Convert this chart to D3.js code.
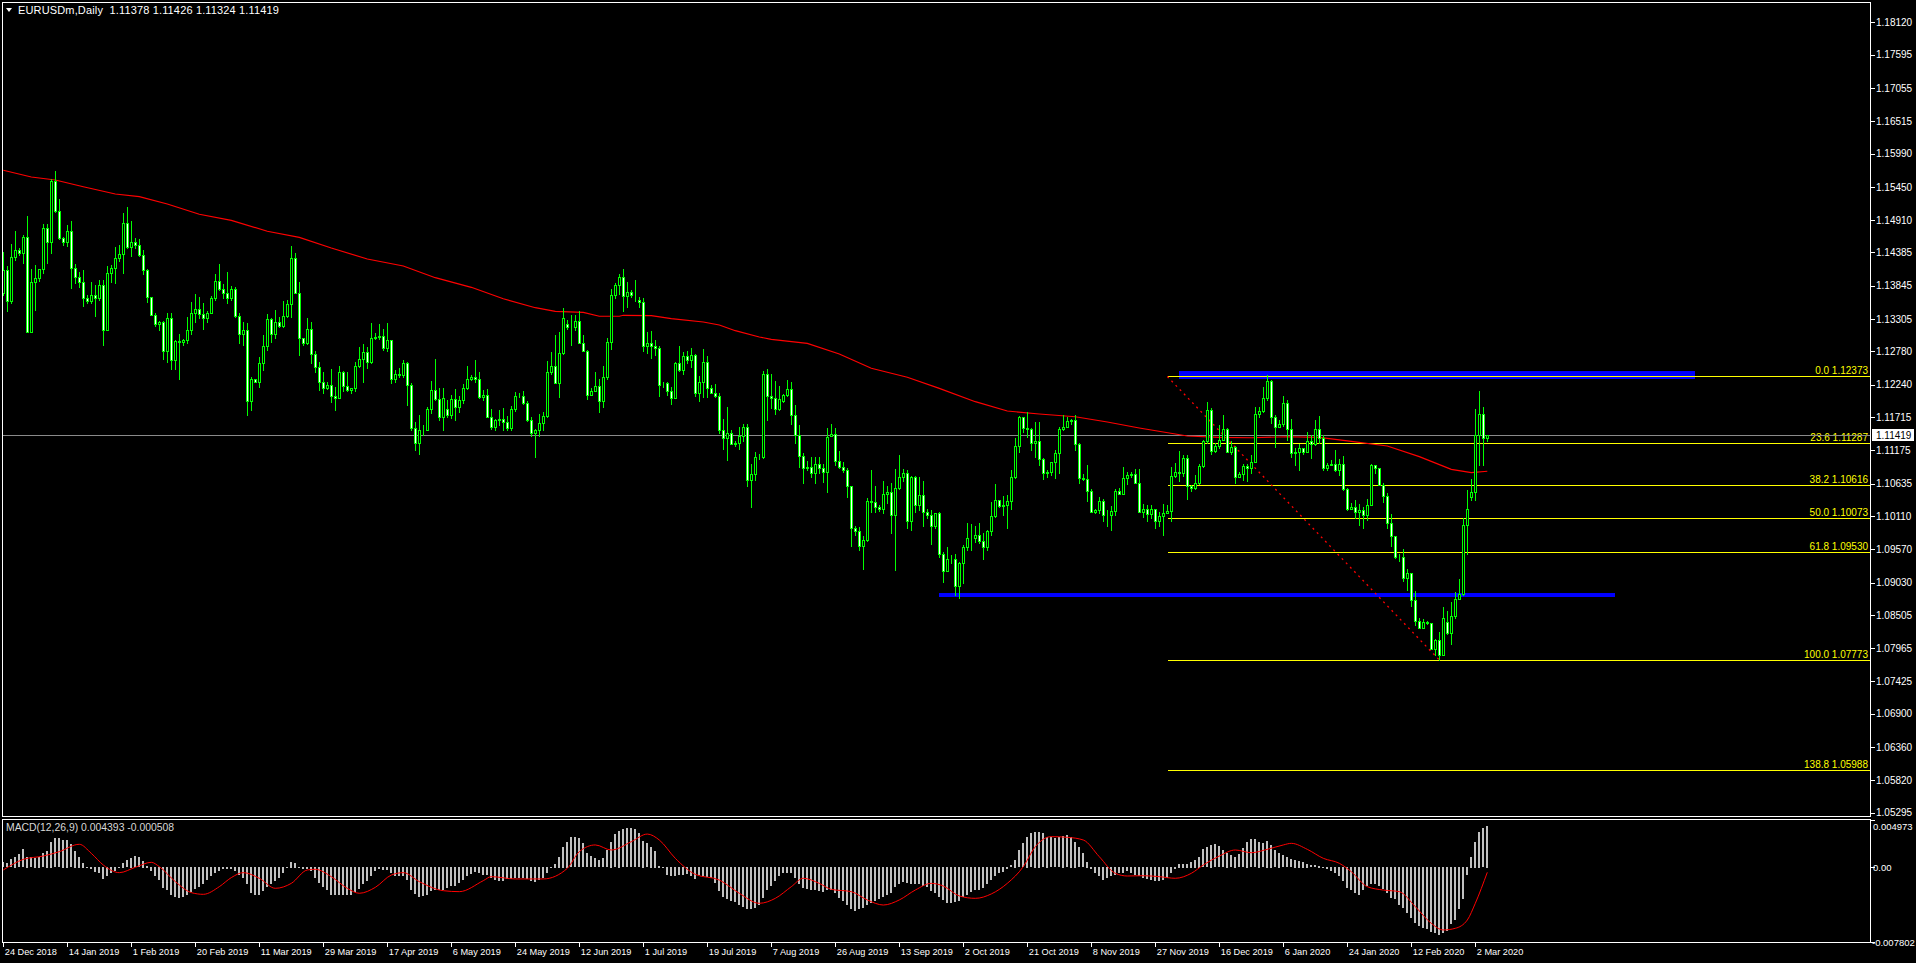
<!DOCTYPE html>
<html><head><meta charset="utf-8">
<script src="https://cdn.jsdelivr.net/npm/d3@7"></script>
<style>html,body{margin:0;padding:0;background:#000;overflow:hidden}</style>
</head><body><svg id="c" width="1916" height="963"></svg>
<script>
// ---------------- DATA ----------------
const symbolTitle = "EURUSDm,Daily";
const lastOHLC = [1.11378, 1.11426, 1.11324, 1.11419];
const open = [
1.1372,1.1410,1.1360,1.1431,1.1443,1.1438,1.1463,1.1310,1.1390,1.1397,
1.1411,1.1479,1.1455,1.1555,1.1506,1.1462,1.1455,1.1473,1.1414,1.1398,
1.1391,1.1364,1.1359,1.1370,1.1364,1.1386,1.1312,1.1406,1.1413,1.1430,
1.1436,1.1486,1.1448,1.1455,1.1451,1.1435,1.1410,1.1366,1.1337,1.1322,
1.1325,1.1278,1.1333,1.1264,1.1295,1.1293,1.1296,1.1312,1.1340,1.1346,
1.1339,1.1333,1.1341,1.1364,1.1393,1.1379,1.1372,1.1364,1.1380,1.1336,
1.1306,1.1312,1.1198,1.1233,1.1229,1.1259,1.1286,1.1330,1.1306,1.1325,
1.1319,1.1336,1.1355,1.1429,1.1373,1.1299,1.1292,1.1315,1.1273,1.1252,
1.1229,1.1218,1.1224,1.1205,1.1203,1.1244,1.1222,1.1215,1.1219,1.1255,
1.1266,1.1277,1.1260,1.1299,1.1302,1.1303,1.1284,1.1297,1.1234,1.1242,
1.1240,1.1259,1.1223,1.1153,1.1130,1.1150,1.1150,1.1184,1.1215,1.1201,
1.1172,1.1184,1.1174,1.1200,1.1188,1.1199,1.1218,1.1234,1.1237,1.1233,
1.1204,1.1207,1.1172,1.1156,1.1166,1.1168,1.1164,1.1154,1.1184,1.1205,
1.1206,1.1194,1.1167,1.1145,1.1150,1.1162,1.1173,1.1245,1.1254,1.1227,
1.1275,1.1322,1.1318,1.1317,1.1328,1.1292,1.1279,1.1208,1.1214,1.1222,
1.1198,1.1236,1.1294,1.1369,1.1385,1.1399,1.1368,1.1374,1.1370,1.1362,
1.1358,1.1286,1.1291,1.1287,1.1284,1.1226,1.1226,1.1214,1.1203,1.1259,
1.1248,1.1271,1.1264,1.1272,1.1211,1.1228,1.1260,1.1219,1.1211,1.1205,
1.1150,1.1138,1.1145,1.1128,1.1130,1.1141,1.1156,1.1070,1.1079,1.1106,
1.1107,1.1242,1.1205,1.1203,1.1185,1.1197,1.1207,1.1217,1.1175,1.1142,
1.1109,1.1089,1.1091,1.1081,1.1096,1.1089,1.1083,1.1141,1.1144,1.1100,
1.1090,1.1085,1.1059,1.0991,1.0987,1.0963,1.0972,1.1036,1.1033,1.1026,
1.1022,1.1046,1.1050,1.1013,1.1056,1.1074,1.1080,1.1002,1.1075,1.1028,
1.1045,1.1018,1.1013,1.0994,1.1015,1.0949,1.0921,1.0941,1.0941,1.0898,
1.0934,1.0961,1.0976,1.0976,1.0980,1.0971,1.0960,1.0986,1.1011,1.1037,
1.1027,1.1028,1.1035,1.1074,1.1125,1.1171,1.1154,1.1152,1.1129,1.1133,
1.1103,1.1080,1.1083,1.1098,1.1113,1.1152,1.1156,1.1165,1.1166,1.1128,
1.1073,1.1071,1.1052,1.1018,1.1021,1.1036,1.1012,1.1013,1.1019,1.1052,
1.1046,1.1072,1.1078,1.1079,1.1065,1.1018,1.1022,1.1014,1.1022,1.1003,
1.1011,1.1015,1.1019,1.1076,1.1082,1.1080,1.1105,1.1059,1.1056,1.1064,
1.1092,1.1133,1.1183,1.1117,1.1125,1.1135,1.1152,1.1115,1.1123,1.1075,
1.1079,1.1092,1.1088,1.1099,1.1176,1.1181,1.1202,1.1230,1.1171,1.1156,
1.1160,1.1195,1.1152,1.1113,1.1114,1.1121,1.1115,1.1133,1.1127,1.1152,
1.1138,1.1089,1.1094,1.1096,1.1085,1.1095,1.1054,1.1022,1.1026,1.1018,
1.1021,1.1013,1.1029,1.1094,1.1089,1.1062,1.1044,1.0999,1.0979,1.0944,
1.0945,1.0910,1.0918,1.0874,1.0841,1.0830,1.0839,1.0838,1.0795,1.0810,
1.0786,1.0839,1.0821,1.0849,1.0877,1.0885,1.0996,1.1041,1.1050,1.1143,
1.1176,1.11378];
const high = [
1.1440,1.1416,1.1453,1.1473,1.1445,1.1467,1.1497,1.1412,1.1419,1.1411,
1.1485,1.1485,1.1557,1.1571,1.1525,1.1464,1.1483,1.1490,1.1420,1.1407,
1.1410,1.1370,1.1390,1.1385,1.1394,1.1394,1.1417,1.1418,1.1448,1.1450,
1.1502,1.1513,1.1489,1.1462,1.1460,1.1443,1.1412,1.1367,1.1341,1.1327,
1.1327,1.1340,1.1341,1.1297,1.1306,1.1298,1.1334,1.1358,1.1371,1.1366,
1.1357,1.1343,1.1368,1.1404,1.1420,1.1387,1.1407,1.1384,1.1382,1.1341,
1.1326,1.1324,1.1237,1.1234,1.1269,1.1305,1.1339,1.1332,1.1345,1.1334,
1.1360,1.1361,1.1449,1.1437,1.1391,1.1299,1.1332,1.1325,1.1278,1.1261,
1.1244,1.1228,1.1249,1.1221,1.1254,1.1247,1.1245,1.1219,1.1261,1.1285,
1.1290,1.1285,1.1324,1.1308,1.1322,1.1314,1.1324,1.1297,1.1248,1.1251,
1.1264,1.1260,1.1226,1.1163,1.1175,1.1158,1.1188,1.1230,1.1266,1.1219,
1.1218,1.1199,1.1207,1.1217,1.1206,1.1225,1.1254,1.1240,1.1264,1.1244,
1.1215,1.1217,1.1184,1.1169,1.1183,1.1186,1.1173,1.1189,1.1212,1.1211,
1.1214,1.1198,1.1172,1.1152,1.1176,1.1179,1.1262,1.1277,1.1305,1.1310,
1.1348,1.1329,1.1337,1.1337,1.1343,1.1305,1.1280,1.1218,1.1245,1.1234,
1.1254,1.1299,1.1379,1.1389,1.1404,1.1411,1.1390,1.1378,1.1394,1.1367,
1.1364,1.1310,1.1311,1.1297,1.1287,1.1229,1.1229,1.1221,1.1261,1.1287,
1.1277,1.1278,1.1284,1.1274,1.1238,1.1282,1.1270,1.1224,1.1225,1.1210,
1.1168,1.1188,1.1150,1.1132,1.1156,1.1161,1.1161,1.1096,1.1115,1.1112,
1.1247,1.1250,1.1241,1.1230,1.1222,1.1209,1.1232,1.1229,1.1191,1.1159,
1.1113,1.1100,1.1107,1.1106,1.1106,1.1096,1.1153,1.1161,1.1154,1.1116,
1.1099,1.1088,1.1060,1.0995,1.0993,1.0979,1.1040,1.1085,1.1059,1.1028,
1.1068,1.1060,1.1064,1.1087,1.1110,1.1087,1.1086,1.1076,1.1076,1.1075,
1.1068,1.1022,1.1021,1.1016,1.1018,1.0953,1.0960,1.0948,1.0949,1.0937,
1.0964,1.0999,1.0998,1.0994,1.0999,1.0983,1.0989,1.1034,1.1063,1.1037,
1.1043,1.1045,1.1086,1.1137,1.1173,1.1171,1.1179,1.1153,1.1164,1.1163,
1.1105,1.1085,1.1099,1.1118,1.1156,1.1175,1.1171,1.1168,1.1175,1.1129,
1.1079,1.1093,1.1054,1.1023,1.1042,1.1038,1.1021,1.1027,1.1054,1.1056,
1.1091,1.1083,1.1082,1.1087,1.1087,1.1031,1.1029,1.1029,1.1022,1.1017,
1.1030,1.1028,1.1090,1.1097,1.1116,1.1110,1.1110,1.1061,1.1077,1.1096,
1.1135,1.1196,1.1186,1.1129,1.1159,1.1175,1.1153,1.1132,1.1125,1.1082,
1.1095,1.1095,1.1110,1.1188,1.1187,1.1220,1.1240,1.1232,1.1175,1.1166,
1.1206,1.1199,1.1168,1.1121,1.1127,1.1122,1.1147,1.1143,1.1166,1.1173,
1.1142,1.1097,1.1102,1.1118,1.1103,1.1108,1.1057,1.1032,1.1037,1.1030,
1.1026,1.1039,1.1095,1.1094,1.1089,1.1065,1.1048,1.1014,1.0979,1.0950,
1.0958,1.0925,1.0919,1.0889,1.0845,1.0844,1.0841,1.0838,1.0811,1.0822,
1.0864,1.0856,1.0872,1.0888,1.0909,1.1007,1.1053,1.1071,1.1185,1.1214,
1.1188,1.11426];
const low = [
1.1370,1.1343,1.1357,1.1426,1.1434,1.1421,1.1310,1.1310,1.1345,1.1393,
1.1405,1.1422,1.1438,1.1505,1.1460,1.1451,1.1449,1.1381,1.1389,1.1383,
1.1351,1.1357,1.1356,1.1336,1.1361,1.1288,1.1312,1.1390,1.1389,1.1424,
1.1406,1.1445,1.1433,1.1445,1.1433,1.1404,1.1358,1.1337,1.1320,1.1313,
1.1265,1.1260,1.1250,1.1249,1.1233,1.1288,1.1292,1.1307,1.1325,1.1332,
1.1315,1.1326,1.1340,1.1361,1.1378,1.1364,1.1357,1.1362,1.1334,1.1291,
1.1288,1.1175,1.1183,1.1228,1.1221,1.1248,1.1280,1.1294,1.1299,1.1318,
1.1318,1.1334,1.1334,1.1372,1.1272,1.1288,1.1290,1.1259,1.1244,1.1215,
1.1211,1.1217,1.1196,1.1183,1.1202,1.1214,1.1213,1.1211,1.1214,1.1253,
1.1229,1.1251,1.1259,1.1298,1.1298,1.1280,1.1278,1.1226,1.1229,1.1237,
1.1237,1.1191,1.1151,1.1118,1.1111,1.1143,1.1150,1.1178,1.1199,1.1167,
1.1151,1.1172,1.1170,1.1167,1.1180,1.1195,1.1217,1.1232,1.1229,1.1202,
1.1199,1.1171,1.1152,1.1150,1.1159,1.1150,1.1150,1.1150,1.1182,1.1204,
1.1193,1.1165,1.1140,1.1107,1.1140,1.1151,1.1172,1.1242,1.1226,1.1204,
1.1274,1.1314,1.1288,1.1313,1.1291,1.1278,1.1201,1.1207,1.1213,1.1180,
1.1188,1.1233,1.1282,1.1365,1.1371,1.1344,1.1350,1.1367,1.1359,1.1350,
1.1279,1.1275,1.1268,1.1272,1.1206,1.1220,1.1207,1.1193,1.1202,1.1247,
1.1242,1.1259,1.1253,1.1205,1.1198,1.1204,1.1204,1.1210,1.1204,1.1145,
1.1120,1.1101,1.1127,1.1124,1.1120,1.1132,1.1059,1.1026,1.1069,1.1103,
1.1105,1.1167,1.1186,1.1176,1.1183,1.1196,1.1205,1.1160,1.1129,1.1091,
1.1065,1.1086,1.1074,1.1065,1.1080,1.1066,1.1050,1.1140,1.1094,1.1088,
1.1083,1.1041,1.0963,1.0980,1.0956,1.0925,1.0970,1.1017,1.1018,1.1019,
1.1015,1.1032,1.0983,1.0924,1.1055,1.1067,1.0991,1.0988,1.1018,1.1021,
1.0995,1.1008,1.0966,1.0991,1.0945,1.0904,1.0921,1.0935,1.0883,1.0878,
1.0902,1.0956,1.0956,1.0969,1.0967,1.0941,1.0955,1.0980,1.1009,1.1025,
1.1013,1.0991,1.1023,1.1072,1.1114,1.1148,1.1139,1.1118,1.1106,1.1094,
1.1071,1.1075,1.1077,1.1072,1.1080,1.1151,1.1155,1.1161,1.1118,1.1064,
1.1069,1.1036,1.1017,1.1016,1.1015,1.1002,1.0994,1.0988,1.1013,1.1046,
1.1046,1.1063,1.1074,1.1064,1.1018,1.1010,1.1003,1.1007,1.0991,1.0994,
1.0980,1.1015,1.1002,1.1074,1.1067,1.1076,1.1039,1.1052,1.1055,1.1063,
1.1090,1.1130,1.1112,1.1114,1.1121,1.1134,1.1114,1.1112,1.1065,1.1075,
1.1069,1.1068,1.1081,1.1098,1.1172,1.1179,1.1199,1.1162,1.1123,1.1156,
1.1157,1.1134,1.1107,1.1093,1.1085,1.1112,1.1114,1.1105,1.1126,1.1129,
1.1086,1.1086,1.1094,1.1084,1.1077,1.1053,1.1021,1.1022,1.1007,1.0996,
1.0992,1.1004,1.1028,1.1080,1.1061,1.1033,1.0992,1.0963,1.0942,1.0938,
1.0906,1.0891,1.0865,1.0834,1.0829,1.0829,1.0836,1.0795,1.0785,1.0777,
1.0785,1.0819,1.0804,1.0845,1.0876,1.0883,1.0950,1.1037,1.1037,1.1094,
1.1094,1.11324];
const close = [
1.1410,1.1360,1.1431,1.1443,1.1438,1.1463,1.1310,1.1390,1.1397,1.1411,
1.1479,1.1455,1.1555,1.1506,1.1462,1.1455,1.1473,1.1414,1.1398,1.1391,
1.1364,1.1359,1.1370,1.1364,1.1386,1.1312,1.1406,1.1413,1.1430,1.1436,
1.1486,1.1448,1.1455,1.1451,1.1435,1.1410,1.1366,1.1337,1.1322,1.1325,
1.1278,1.1333,1.1264,1.1295,1.1293,1.1296,1.1312,1.1340,1.1346,1.1339,
1.1333,1.1341,1.1364,1.1393,1.1379,1.1372,1.1364,1.1380,1.1336,1.1306,
1.1312,1.1198,1.1233,1.1229,1.1259,1.1286,1.1330,1.1306,1.1325,1.1319,
1.1336,1.1355,1.1429,1.1373,1.1299,1.1292,1.1315,1.1273,1.1252,1.1229,
1.1218,1.1224,1.1205,1.1203,1.1244,1.1222,1.1215,1.1219,1.1255,1.1266,
1.1277,1.1260,1.1299,1.1302,1.1303,1.1284,1.1297,1.1234,1.1242,1.1240,
1.1259,1.1223,1.1153,1.1130,1.1150,1.1150,1.1184,1.1215,1.1201,1.1172,
1.1202,1.1174,1.1200,1.1188,1.1199,1.1218,1.1234,1.1237,1.1233,1.1204,
1.1207,1.1172,1.1156,1.1166,1.1168,1.1164,1.1154,1.1184,1.1205,1.1206,
1.1194,1.1167,1.1145,1.1150,1.1162,1.1173,1.1245,1.1254,1.1227,1.1275,
1.1332,1.1318,1.1317,1.1328,1.1292,1.1279,1.1208,1.1214,1.1222,1.1198,
1.1236,1.1294,1.1369,1.1385,1.1399,1.1368,1.1374,1.1370,1.1369,1.1358,
1.1286,1.1291,1.1287,1.1284,1.1224,1.1226,1.1214,1.1203,1.1259,1.1248,
1.1271,1.1264,1.1272,1.1211,1.1228,1.1260,1.1219,1.1211,1.1205,1.1150,
1.1138,1.1145,1.1128,1.1130,1.1141,1.1156,1.1070,1.1079,1.1106,1.1107,
1.1242,1.1205,1.1203,1.1185,1.1200,1.1207,1.1217,1.1175,1.1142,1.1109,
1.1089,1.1091,1.1081,1.1096,1.1089,1.1083,1.1139,1.1144,1.1100,1.1090,
1.1085,1.1059,1.0991,1.0987,1.0963,1.0972,1.1036,1.1033,1.1026,1.1022,
1.1046,1.1050,1.1013,1.1056,1.1074,1.1080,1.1002,1.1075,1.1028,1.1045,
1.1018,1.1013,1.0994,1.1015,1.0949,1.0921,1.0941,1.0941,1.0898,1.0934,
1.0961,1.0976,1.0976,1.0980,1.0971,1.0960,1.0986,1.1011,1.1037,1.1027,
1.1028,1.1035,1.1074,1.1125,1.1171,1.1154,1.1152,1.1129,1.1133,1.1103,
1.1080,1.1083,1.1098,1.1113,1.1152,1.1156,1.1165,1.1166,1.1128,1.1073,
1.1071,1.1052,1.1018,1.1021,1.1036,1.1012,1.1013,1.1019,1.1052,1.1046,
1.1072,1.1078,1.1079,1.1065,1.1018,1.1022,1.1014,1.1022,1.1003,1.1011,
1.1015,1.1019,1.1076,1.1082,1.1080,1.1105,1.1059,1.1056,1.1064,1.1092,
1.1133,1.1183,1.1117,1.1125,1.1135,1.1152,1.1115,1.1123,1.1075,1.1079,
1.1092,1.1088,1.1099,1.1176,1.1181,1.1202,1.1230,1.1171,1.1156,1.1160,
1.1195,1.1152,1.1113,1.1114,1.1121,1.1115,1.1133,1.1127,1.1152,1.1138,
1.1089,1.1094,1.1096,1.1085,1.1095,1.1054,1.1022,1.1026,1.1018,1.1021,
1.1013,1.1029,1.1094,1.1089,1.1062,1.1044,1.0999,1.0979,1.0944,1.0945,
1.0910,1.0918,1.0874,1.0841,1.0830,1.0839,1.0838,1.0795,1.0810,1.0786,
1.0846,1.0821,1.0849,1.0877,1.0885,1.0996,1.1022,1.1050,1.1143,1.1176,
1.1138,1.11419];

// moving average (red) read at sample bars
const maBars = [0,7,13,20,28,34,41,49,57,66,74,82,91,100,108,117,125,133,138,145,149,154,155,162,167,175,179,183,189,192,201,209,217,226,234,243,251,259,268,276,284,287,296,304,312,321,329,337,346,354,362,367,371];
const maValues = [1.15719,1.15610,1.15561,1.15452,1.15334,1.15290,1.15172,1.15005,1.14907,1.14729,1.14631,1.14458,1.14279,1.14166,1.13976,1.13820,1.13635,1.13489,1.13431,1.13414,1.13350,1.13350,1.13366,1.13359,1.13311,1.13257,1.13208,1.13116,1.13014,1.12976,1.12911,1.12738,1.12506,1.12360,1.12181,1.11964,1.11813,1.11764,1.11720,1.11634,1.11537,1.11505,1.11407,1.11386,1.11379,1.11395,1.11386,1.11321,1.11245,1.11072,1.10867,1.10812,1.10835];

// MACD histogram (main line), per bar
const macdHist = [
0.00054,0.00044,0.00085,0.00113,0.00140,0.00190,0.00113,0.00106,0.00100,0.00113,
0.00148,0.00176,0.00270,0.00305,0.00305,0.00288,0.00288,0.00246,0.00176,0.00113,
0.00050,0.00000,-0.00026,-0.00054,-0.00061,-0.00130,-0.00096,-0.00068,-0.00044,-0.00009,
0.00050,0.00078,0.00103,0.00120,0.00106,0.00072,0.00016,-0.00044,-0.00096,-0.00138,
-0.00218,-0.00236,-0.00288,-0.00312,-0.00323,-0.00312,-0.00288,-0.00263,-0.00229,-0.00208,
-0.00183,-0.00138,-0.00096,-0.00061,-0.00044,-0.00026,-0.00019,-0.00026,-0.00037,-0.00089,
-0.00113,-0.00183,-0.00270,-0.00288,-0.00288,-0.00253,-0.00208,-0.00173,-0.00148,-0.00113,
-0.00061,0.00009,0.00061,0.00050,-0.00009,-0.00026,-0.00026,-0.00044,-0.00113,-0.00166,
-0.00208,-0.00236,-0.00288,-0.00298,-0.00298,-0.00298,-0.00298,-0.00298,-0.00263,-0.00229,
-0.00183,-0.00148,-0.00096,-0.00044,-0.00026,-0.00033,-0.00033,-0.00061,-0.00096,-0.00096,
-0.00096,-0.00138,-0.00236,-0.00279,-0.00312,-0.00305,-0.00288,-0.00253,-0.00236,-0.00236,
-0.00236,-0.00218,-0.00200,-0.00194,-0.00166,-0.00138,-0.00096,-0.00072,-0.00054,-0.00061,
-0.00089,-0.00089,-0.00113,-0.00138,-0.00148,-0.00148,-0.00130,-0.00130,-0.00113,-0.00113,
-0.00113,-0.00130,-0.00148,-0.00159,-0.00138,-0.00113,-0.00061,0.00009,0.00037,0.00113,
0.00218,0.00270,0.00316,0.00316,0.00305,0.00253,0.00148,0.00120,0.00096,0.00078,
0.00096,0.00183,0.00270,0.00350,0.00386,0.00400,0.00410,0.00410,0.00400,0.00358,
0.00280,0.00253,0.00218,0.00176,0.00016,-0.00009,-0.00089,-0.00096,-0.00096,-0.00089,
-0.00089,-0.00078,-0.00096,-0.00124,-0.00079,-0.00096,-0.00106,-0.00113,-0.00166,-0.00253,
-0.00312,-0.00340,-0.00358,-0.00368,-0.00393,-0.00417,-0.00438,-0.00438,-0.00428,-0.00393,
-0.00323,-0.00236,-0.00194,-0.00148,-0.00096,-0.00061,-0.00061,-0.00068,-0.00113,-0.00183,
-0.00218,-0.00229,-0.00236,-0.00243,-0.00253,-0.00263,-0.00236,-0.00236,-0.00270,-0.00323,
-0.00358,-0.00393,-0.00445,-0.00462,-0.00445,-0.00428,-0.00403,-0.00375,-0.00358,-0.00340,
-0.00312,-0.00288,-0.00270,-0.00208,-0.00173,-0.00159,-0.00166,-0.00173,-0.00173,-0.00183,
-0.00194,-0.00208,-0.00253,-0.00277,-0.00312,-0.00347,-0.00375,-0.00375,-0.00368,-0.00358,
-0.00312,-0.00288,-0.00263,-0.00243,-0.00236,-0.00218,-0.00183,-0.00138,-0.00096,-0.00068,
-0.00054,-0.00026,0.00026,0.00079,0.00183,0.00253,0.00323,0.00358,0.00375,0.00375,
0.00358,0.00323,0.00316,0.00305,0.00316,0.00330,0.00340,0.00323,0.00270,0.00211,
0.00148,0.00061,-0.00019,-0.00061,-0.00096,-0.00131,-0.00113,-0.00096,-0.00079,-0.00061,
-0.00061,-0.00044,-0.00061,-0.00079,-0.00096,-0.00113,-0.00124,-0.00131,-0.00148,-0.00148,
-0.00138,-0.00113,-0.00061,-0.00019,0.00037,0.00037,0.00037,0.00061,0.00079,0.00113,
0.00190,0.00211,0.00236,0.00246,0.00224,0.00183,0.00155,0.00129,0.00113,0.00141,
0.00201,0.00270,0.00295,0.00295,0.00270,0.00253,0.00281,0.00236,0.00183,0.00155,
0.00129,0.00106,0.00085,0.00079,0.00072,0.00061,0.00037,0.00026,0.00026,0.00016,
-0.00009,-0.00026,-0.00044,-0.00061,-0.00096,-0.00148,-0.00218,-0.00236,-0.00270,-0.00288,
-0.00236,-0.00194,-0.00183,-0.00183,-0.00194,-0.00229,-0.00270,-0.00323,-0.00340,-0.00393,
-0.00428,-0.00480,-0.00532,-0.00585,-0.00619,-0.00637,-0.00647,-0.00682,-0.00696,-0.00717,
-0.00689,-0.00672,-0.00602,-0.00550,-0.00445,-0.00333,-0.00079,0.00113,0.00270,0.00375,
0.00410,0.004393];
// MACD signal line (red) read at sample bars
const signalBars = [0,5,10,14,19,22,25,29,33,37,39,43,47,50,54,57,60,64,68,72,76,78,82,86,89,93,97,100,104,110,114,120,122,128,135,141,144,148,152,157,161,164,168,173,
179,184,189,193,197,200,204,207,212,216,220,224,228,232,235,239,243,247,251,255,258,262,266,270,274,278,281,285,289,293,297,300,304,308,312,316,320,322,326,330,334,337,341,345,349,353,357,360,363,366,368,371];
const signalValues = [-0.00026,0.00085,0.00120,0.00166,0.00243,0.00148,0.00026,-0.00054,0.00002,0.00054,0.00009,-0.00148,-0.00263,-0.00281,-0.00201,-0.00106,-0.00054,-0.00113,-0.00218,-0.00166,-0.00026,-0.00019,-0.00096,-0.00218,-0.00270,-0.00208,-0.00079,-0.00054,-0.00148,-0.00243,-0.00253,-0.00138,-0.00096,-0.00120,-0.00120,-0.00009,0.00166,0.00236,0.00183,0.00270,0.00350,0.00288,0.00096,-0.00072,
-0.00131,-0.00270,-0.00375,-0.00323,-0.00201,-0.00113,-0.00166,-0.00229,-0.00253,-0.00340,-0.00393,-0.00340,-0.00236,-0.00166,-0.00194,-0.00298,-0.00323,-0.00277,-0.00166,0.00009,0.00218,0.00323,0.00316,0.00288,0.00113,-0.00061,-0.00089,-0.00086,-0.00096,-0.00113,-0.00061,0.00026,0.00120,0.00183,0.00155,0.00190,0.00236,0.00253,0.00190,0.00096,0.00044,-0.00044,-0.00201,-0.00236,-0.00253,-0.00410,-0.00585,-0.00654,-0.00637,-0.00550,-0.00375,-0.000508];

const priceTicks = [1.18120,1.17595,1.17055,1.16515,1.15990,1.15450,1.14910,1.14385,1.13845,1.13305,1.12780,1.12240,1.11715,1.11175,1.10635,1.10110,1.09570,1.09030,1.08505,1.07965,1.07425,1.06900,1.06360,1.05820,1.05295];
const macdTicks = [0.004973, 0, -0.007802];
const macdTickLabels = ["0.004973","0.00","-0.007802"];
const dateLabelBars = [0,16,32,48,64,80,96,112,128,144,160,176,192,208,224,240,256,272,288,304,320,336,352,368];
const dateLabels = ["24 Dec 2018","14 Jan 2019","1 Feb 2019","20 Feb 2019","11 Mar 2019","29 Mar 2019","17 Apr 2019","6 May 2019","24 May 2019","12 Jun 2019","1 Jul 2019","19 Jul 2019","7 Aug 2019","26 Aug 2019","13 Sep 2019","2 Oct 2019","21 Oct 2019","8 Nov 2019","27 Nov 2019","16 Dec 2019","6 Jan 2020","24 Jan 2020","12 Feb 2020","2 Mar 2020"];

// Fibonacci retracement
const fibStartBar = 291, fibEndBar = 359;
const fibHigh = 1.12373, fibLow = 1.07773;
const fibRatios = ["0.0","23.6","38.2","50.0","61.8","100.0","138.8"];
const fibPrices = [1.12373,1.11287,1.10616,1.10073,1.09530,1.07773,1.05988];
// blue horizontal trend lines
const blueLinePrices = [1.1240, 1.0882];
const blueLineFromBar = [294, 234];
const blueLineToBar = [423, 403];
const macdParams = "MACD(12,26,9)";

// ---------------- STYLE ----------------
const S = {
  font: '"Liberation Sans", Arial, sans-serif',
  fs: 10, fsDate: 9.2, fsHead: 11,
  candle: '#00ff00', bullFill: '#000000', bearFill: '#ffffff',
  ma: '#ff0000', fib: '#ffff00', blue: '#0000ff', blueW: [8, 4],
  priceLine: '#8a8a8a', hist: '#c0c0c0', signal: '#ff0000', axis: '#ffffff'
};
const fmt5 = v => v.toFixed(5);

// ---------------- SCALES ----------------
const svg = d3.select('#c');
const x = d3.scaleLinear().domain([0, 371]).range([3.3, 1487.3]);
const y = d3.scaleLinear().domain([1.05295, 1.18120]).range([812.7, 22.3]);
const yM = d3.scaleLinear().domain([-0.007802, 0.004973]).range([942, 820]);
const col = i => Math.floor(x(i));
const R = v => Math.round(v);
const plotRight = 1870.5;

svg.append('rect').attr('width', 1916).attr('height', 963).attr('fill', '#000');
const defs = svg.append('defs');
defs.append('clipPath').attr('id', 'cm').append('rect').attr('x', 3).attr('y', 3).attr('width', 1867).attr('height', 813);
defs.append('clipPath').attr('id', 'cd').append('rect').attr('x', 3).attr('y', 820).attr('width', 1867).attr('height', 122);

const gm = svg.append('g').attr('clip-path', 'url(#cm)');

// blue lines
blueLinePrices.forEach((p, k) => {
  gm.append('line')
    .attr('x1', x(blueLineFromBar[k])).attr('x2', x(blueLineToBar[k]))
    .attr('y1', R(y(p))).attr('y2', R(y(p)))
    .attr('stroke', S.blue).attr('stroke-width', S.blueW[k]).attr('shape-rendering', 'crispEdges');
});

// fib levels
const fibX0 = col(fibStartBar) + 0.5;
fibPrices.forEach((p, k) => {
  const yy = R(y(p)) + 0.5;
  gm.append('line').attr('x1', fibX0).attr('x2', plotRight).attr('y1', yy).attr('y2', yy)
    .attr('stroke', S.fib).attr('stroke-width', 1).attr('shape-rendering', 'crispEdges');
  gm.append('text').attr('x', 1868).attr('y', yy - 2.5).attr('text-anchor', 'end')
    .attr('fill', S.fib).attr('font-family', S.font).attr('font-size', S.fs)
    .text(fibRatios[k] + ' ' + fmt5(p));
});
// fib trend (dotted)
gm.append('line')
  .attr('x1', x(fibStartBar)).attr('y1', y(fibHigh))
  .attr('x2', x(fibEndBar)).attr('y2', y(fibLow))
  .attr('stroke', S.ma).attr('stroke-width', 1.3).attr('stroke-dasharray', '2,4');

// current price line
const lastClose = lastOHLC[3];
gm.append('line').attr('x1', 3).attr('x2', plotRight)
  .attr('y1', R(y(lastClose)) + 0.5).attr('y2', R(y(lastClose)) + 0.5)
  .attr('stroke', S.priceLine).attr('stroke-width', 1).attr('shape-rendering', 'crispEdges');

// moving average
const maPts = maBars.map((b, i) => [b, maValues[i]]);
gm.append('path').datum(maPts)
  .attr('d', d3.line().x(d => x(d[0])).y(d => y(d[1])))
  .attr('fill', 'none').attr('stroke', S.ma).attr('stroke-width', 1.2);

// candles
const cg = gm.append('g').attr('shape-rendering', 'crispEdges');
d3.range(close.length).forEach(i => {
  const c = col(i);
  cg.append('line').attr('x1', c + 0.5).attr('x2', c + 0.5)
    .attr('y1', R(y(high[i]))).attr('y2', R(y(low[i])) + 1)
    .attr('stroke', S.candle).attr('stroke-width', 1);
  const yo = R(y(open[i])), yc = R(y(close[i]));
  const top = Math.min(yo, yc), bot = Math.max(yo, yc);
  cg.append('rect').attr('x', c - 0.5).attr('y', top + 0.5)
    .attr('width', 2).attr('height', Math.max(bot - top, 0))
    .attr('fill', close[i] >= open[i] ? S.bullFill : S.bearFill)
    .attr('stroke', S.candle).attr('stroke-width', 1);
});

// ---------------- MACD ----------------
const gd = svg.append('g').attr('clip-path', 'url(#cd)');
const z0 = yM(0);
gd.append('g').attr('shape-rendering', 'crispEdges').selectAll('rect').data(macdHist).join('rect')
  .attr('x', (d, i) => col(i) - 1).attr('width', 2)
  .attr('y', d => R(Math.min(yM(d), z0)))
  .attr('height', d => Math.max(1, R(Math.abs(yM(d) - z0))))
  .attr('fill', S.hist);
const sigPts = signalBars.map((b, i) => [b, signalValues[i]]);
gd.append('path').datum(sigPts)
  .attr('d', d3.line().x(d => x(d[0])).y(d => yM(d[1])).curve(d3.curveMonotoneX))
  .attr('fill', 'none').attr('stroke', S.signal).attr('stroke-width', 1);

// ---------------- FRAMES ----------------
svg.append('rect').attr('x', 2.5).attr('y', 2.5).attr('width', 1868).attr('height', 814)
  .attr('fill', 'none').attr('stroke', S.axis).attr('stroke-width', 1).attr('shape-rendering', 'crispEdges');
svg.append('rect').attr('x', 2.5).attr('y', 819.5).attr('width', 1868).attr('height', 123)
  .attr('fill', 'none').attr('stroke', S.axis).attr('stroke-width', 1).attr('shape-rendering', 'crispEdges');

// price axis
const ya = svg.append('g').attr('transform', 'translate(1871,0)')
  .call(d3.axisRight(y).tickValues(priceTicks).tickFormat(fmt5).tickSize(4).tickSizeOuter(0));
ya.select('.domain').remove();
ya.selectAll('line').attr('stroke', S.axis).attr('shape-rendering', 'crispEdges');
ya.selectAll('text').attr('fill', S.axis).attr('font-family', S.font).attr('font-size', S.fs).attr('x', 5);

// current price box
const py = y(lastClose);
svg.append('rect').attr('x', 1872).attr('y', R(py) - 6).attr('width', 42).attr('height', 12).attr('fill', '#fff');
svg.append('text').attr('x', 1876).attr('y', py).attr('dy', '0.35em')
  .attr('fill', '#000').attr('font-family', S.font).attr('font-size', S.fs)
  .text(fmt5(lastClose));

// macd axis
const mx = svg.append('g').attr('transform', 'translate(1871,0)')
  .call(d3.axisRight(yM).tickValues(macdTicks).tickFormat((d, i) => macdTickLabels[i]).tickSize(4).tickSizeOuter(0));
mx.select('.domain').remove();
mx.selectAll('line').attr('stroke', S.axis).attr('shape-rendering', 'crispEdges');
mx.selectAll('text').attr('fill', S.axis).attr('font-family', S.font).attr('font-size', 9.5).attr('x', 2)
  .attr('transform', (d, i) => i === 0 ? 'translate(0,6)' : (i === 2 ? 'translate(-1,0)' : null));

// date axis
const da = svg.append('g').attr('transform', 'translate(0,943)')
  .call(d3.axisBottom(x).tickValues(dateLabelBars).tickFormat((d, i) => dateLabels[i]).tickSize(4).tickSizeOuter(0));
da.select('.domain').remove();
da.selectAll('line').attr('stroke', S.axis).attr('shape-rendering', 'crispEdges');
da.selectAll('text').attr('fill', S.axis).attr('font-family', S.font).attr('font-size', S.fsDate)
  .attr('text-anchor', 'start').attr('x', 1).attr('y', 5).attr('dy', '0.71em');

// header
svg.append('path').attr('d', 'M6,8 L12,8 L9,12 Z').attr('fill', '#fff');
svg.append('text').attr('x', 18).attr('y', 14).attr('fill', '#fff')
  .attr('font-family', S.font).attr('font-size', S.fsHead).attr('letter-spacing', 0.15)
  .style('white-space', 'pre')
  .text(symbolTitle + '  ' + lastOHLC.map(fmt5).join(' '));
svg.append('text').attr('x', 6).attr('y', 831).attr('fill', '#d8d8d8')
  .attr('font-family', S.font).attr('font-size', 10.4)
  .text(macdParams + ' ' + macdHist[macdHist.length - 1].toFixed(6) + ' ' + signalValues[signalValues.length - 1].toFixed(6));
</script>
</body></html>
